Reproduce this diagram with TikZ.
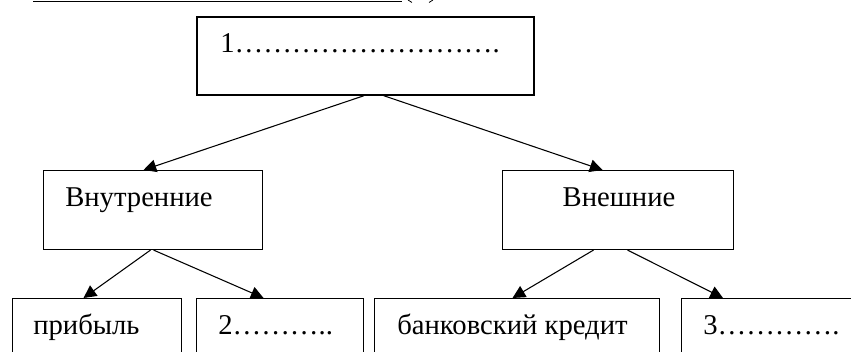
\documentclass[tikz,border=0pt]{standalone}
\usepackage{fontspec}
\setmainfont{Liberation Serif}
\usetikzlibrary{arrows.meta}
\begin{document}
\begin{tikzpicture}[x=0.75pt,y=-0.75pt,
  box/.style={draw, line width=0.8pt, inner sep=0pt, anchor=north west},
  lbl/.style={anchor=base west, inner sep=0pt, font=\fontsize{21.5}{24}\selectfont},
  arr/.style={-{Triangle[length=9.5pt,width=9.5pt]}, line width=0.8pt}]
\useasboundingbox (0,0) rectangle (851,352);
\clip (0,0) rectangle (851,352);
\draw[line width=1pt] (33,1.5) coordinate (ul1) -- (402,1.5) coordinate (ul2);
\draw[line width=0.6pt] (408,0) coordinate (pa1) -- (412,2.5) coordinate (pa2);
\draw[line width=0.6pt] (433,0) coordinate (pb1) -- (429,2.5) coordinate (pb2);
% boxes
\node[box, line width=1.3pt, minimum width=337*0.75pt, minimum height=78*0.75pt] (top) at (196,16) {};
\node[box, minimum width=219*0.75pt, minimum height=79*0.75pt] (inner) at (43,170) {};
\node[box, minimum width=231*0.75pt, minimum height=79*0.75pt] (outer) at (502,170) {};
\node[box, minimum width=169*0.75pt, minimum height=70*0.75pt] (b1) at (12,298) {};
\node[box, minimum width=167*0.75pt, minimum height=70*0.75pt] (b2) at (196,298) {};
\node[box, minimum width=285*0.75pt, minimum height=70*0.75pt] (b3) at (374,298) {};
\node[box, minimum width=200*0.75pt, minimum height=70*0.75pt] (b4) at (681,298) {};
% labels
\node[lbl] (t1) at ([shift={(24,37)}]top.north west) {1\dots\dots\dots\dots\dots\dots\dots\dots\dots.};
\node[lbl] (ti) at ([shift={(22,37)}]inner.north west) {Внутренние};
\node[lbl, anchor=base] (to) at ([shift={(1,37)}]outer.north) {Внешние};
\node[lbl] (t1b) at ([shift={(21,37)}]b1.north west) {прибыль};
\node[lbl] (t2b) at ([shift={(22,37)}]b2.north west) {2\dots\dots\dots..};
\node[lbl] (t3b) at ([shift={(23,37)}]b3.north west) {банковский кредит};
\node[lbl] (t4b) at ([shift={(22,37)}]b4.north west) {3\dots\dots\dots\dots.};
% arrows
\draw[arr] ([shift={(-1.5,0)}]top.south) -- ([shift={(-9.5,0)}]inner.north);
\draw[arr] ([shift={(18.5,0)}]top.south) -- ([shift={(-15.5,0)}]outer.north);
\draw[arr] ([shift={(-2.5,0)}]inner.south) -- ([shift={(-13.5,0)}]b1.north);
\draw[arr] ([shift={(0.5,0)}]inner.south) -- ([shift={(-16.5,0)}]b2.north);
\draw[arr] ([shift={(-24.5,0)}]outer.south) -- ([shift={(-4.5,0)}]b3.north);
\draw[arr] ([shift={(9.5,0)}]outer.south) -- ([shift={(42,0)}]b4.north west);
\end{tikzpicture}
\end{document}
